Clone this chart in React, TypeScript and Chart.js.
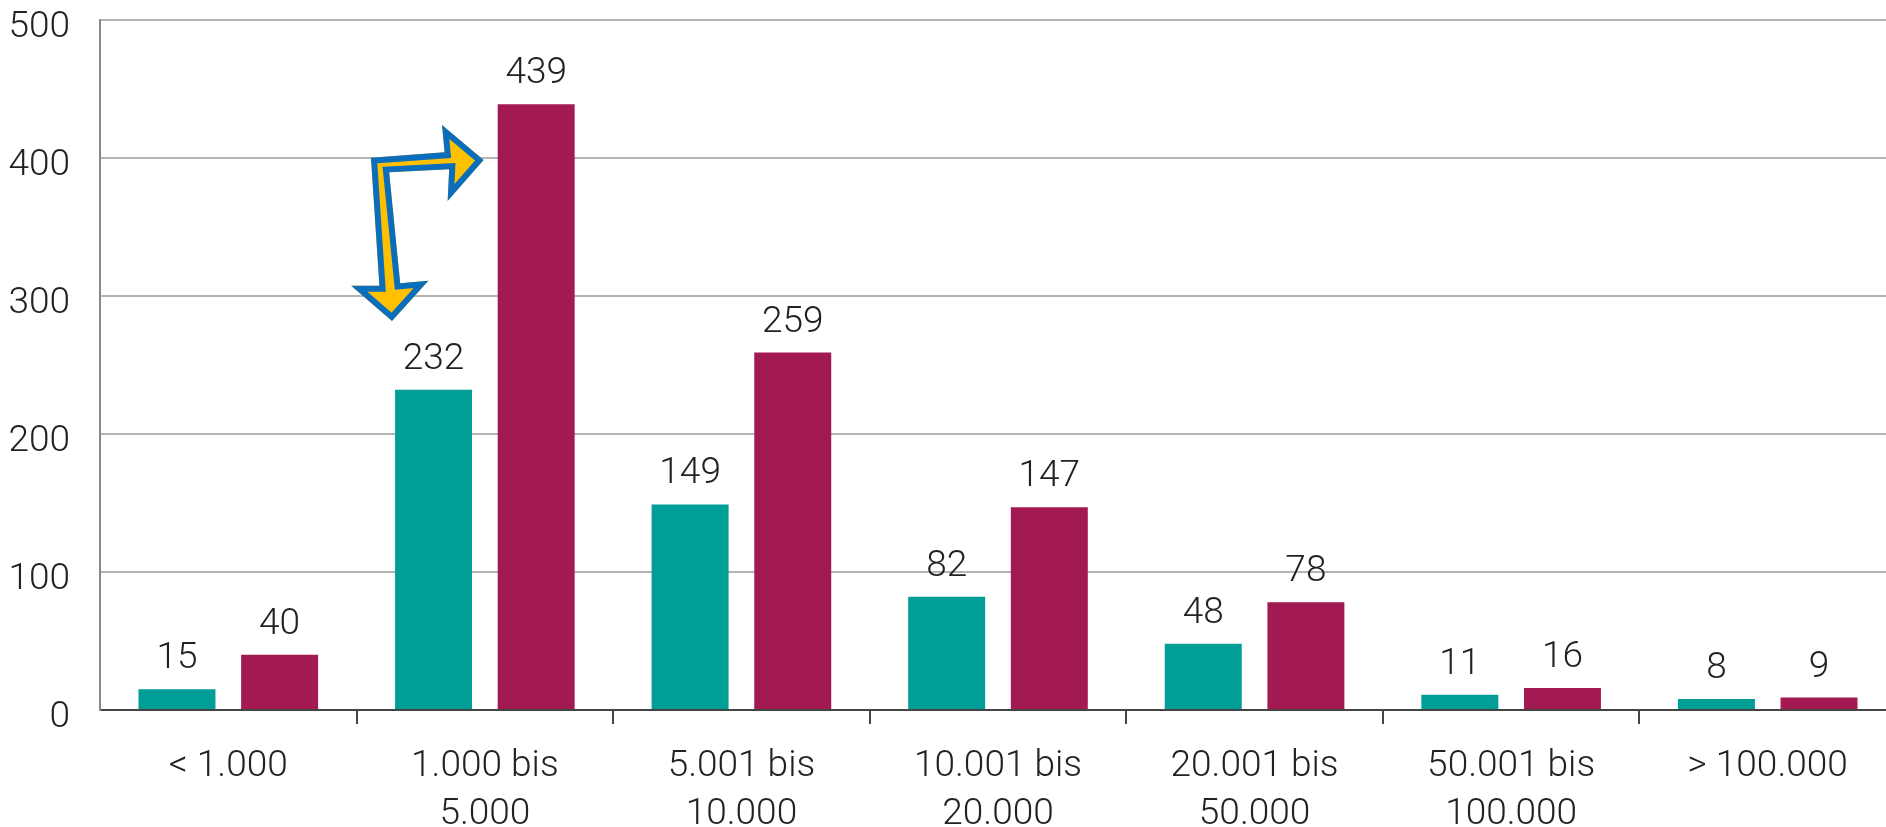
import React, { useEffect, useRef } from 'react';
import { Chart, registerables } from 'chart.js';

Chart.register(...registerables);

const categories: (string | string[])[] = [
  '< 1.000',
  ['1.000 bis', '5.000'],
  ['5.001 bis', '10.000'],
  ['10.001 bis', '20.000'],
  ['20.001 bis', '50.000'],
  ['50.001 bis', '100.000'],
  '> 100.000',
];
const seriesTeal = [15, 232, 149, 82, 48, 11, 8];
const seriesMagenta = [40, 439, 259, 147, 78, 16, 9];
const yMin = 0;
const yMax = 500;
const yStep = 100;

const TEAL = '#009E96';
const MAGENTA = '#A31A53';
const FONT = 'Roboto, "DejaVu Sans", sans-serif';
const WEIGHT = 300;

// Arrow annotation outline: [offset from category-1 centre in category widths, value]
const arrowAnchorCategory = 1;
const arrowOutline: [number, number][] = [
  [-0.444, 400.2],
  [-0.411, 307.5],
  [-0.521, 307.5],
  [-0.362, 281.9],
  [-0.22, 311.1],
  [-0.33, 309.2],
  [-0.373, 389.6],
  [-0.139, 391.8],
  [-0.145, 368.8],
  [-0.005, 398.6],
  [-0.167, 423.9],
  [-0.157, 404.1],
];

const valueLabels = {
  id: 'valueLabels',
  afterDatasetsDraw(chart: any) {
    const ctx = chart.ctx;
    ctx.save();
    ctx.font = `${WEIGHT} 37px ${FONT}`;
    ctx.fillStyle = '#222';
    ctx.textAlign = 'center';
    ctx.textBaseline = 'alphabetic';
    chart.data.datasets.forEach((ds: any, i: number) => {
      const meta = chart.getDatasetMeta(i);
      meta.data.forEach((el: any, j: number) => {
        ctx.fillText(String(ds.data[j]), el.x, el.y - 21);
      });
    });
    ctx.restore();
  },
};

const arrowPlugin = {
  id: 'arrowPlugin',
  afterDatasetsDraw(chart: any) {
    const xs = chart.scales.x;
    const ys = chart.scales.y;
    const cx = xs.getPixelForValue(arrowAnchorCategory);
    const cw = xs.getPixelForValue(arrowAnchorCategory + 1) - cx;
    const ctx = chart.ctx;
    ctx.save();
    const path = new Path2D();
    arrowOutline.forEach(([dx, v], i) => {
      const px = cx + dx * cw;
      const py = ys.getPixelForValue(v);
      if (i === 0) path.moveTo(px, py);
      else path.lineTo(px, py);
    });
    path.closePath();
    ctx.fillStyle = '#FFC000';
    ctx.fill(path);
    ctx.clip(path);
    ctx.lineWidth = 12;
    ctx.lineJoin = 'miter';
    ctx.strokeStyle = '#0A6EBD';
    ctx.stroke(path);
    ctx.restore();
  },
};

export default function App() {
  const ref = useRef<HTMLCanvasElement | null>(null);
  useEffect(() => {
    document.body.style.overflow = 'hidden';
    const canvas = ref.current!;
    const chart = new Chart(canvas, {
      type: 'bar',
      data: {
        labels: categories as any,
        datasets: [
          {
            data: seriesTeal,
            backgroundColor: TEAL,
            categoryPercentage: 0.8,
            barPercentage: 0.75,
          },
          {
            data: seriesMagenta,
            backgroundColor: MAGENTA,
            categoryPercentage: 0.8,
            barPercentage: 0.75,
          },
        ],
      },
      options: {
        animation: false,
        responsive: false,
        devicePixelRatio: 1,
        layout: { padding: { top: 20, left: 0, right: 0, bottom: 0 } },
        plugins: {
          legend: { display: false },
          tooltip: { enabled: false },
        },
        scales: {
          x: {
            grid: {
              display: true,
              drawOnChartArea: false,
              drawTicks: true,
              tickLength: 14,
              lineWidth: 2,
              offset: true,
              color: (c: any) => (c.index === 0 ? 'rgba(0,0,0,0)' : '#444'),
            },
            border: { display: true, color: '#444', width: 2 },
            ticks: {
              color: '#222',
              font: { family: FONT, size: 37, weight: WEIGHT as any, lineHeight: 1.3 },
              padding: 19,
              maxRotation: 0,
              autoSkip: false,
            },
            afterFit: (s: any) => {
              s.height = 117;
              s.paddingLeft = 0;
              s.paddingRight = 0;
            },
          },
          y: {
            min: yMin,
            max: yMax,
            ticks: {
              stepSize: yStep,
              color: '#222',
              font: { family: FONT, size: 37, weight: WEIGHT as any, lineHeight: 1 },
              padding: 30,
              labelOffset: 8,
            },
            grid: {
              drawTicks: false,
              lineWidth: 2,
              color: (c: any) => (c.tick && c.tick.value === 0 ? 'rgba(0,0,0,0)' : '#B4B4B4'),
            },
            border: { display: true, color: '#888', width: 2 },
            afterFit: (s: any) => {
              s.width = 100;
              s.paddingTop = 0;
              s.paddingBottom = 0;
            },
          },
        },
      },
      plugins: [valueLabels, arrowPlugin],
    });
    return () => chart.destroy();
  }, []);
  return (
    <div style={{ position: 'fixed', left: 0, top: 0, width: 1896, height: 827, background: '#fff' }}>
      <canvas ref={ref} width={1896} height={827} style={{ display: 'block' }} />
    </div>
  );
}
